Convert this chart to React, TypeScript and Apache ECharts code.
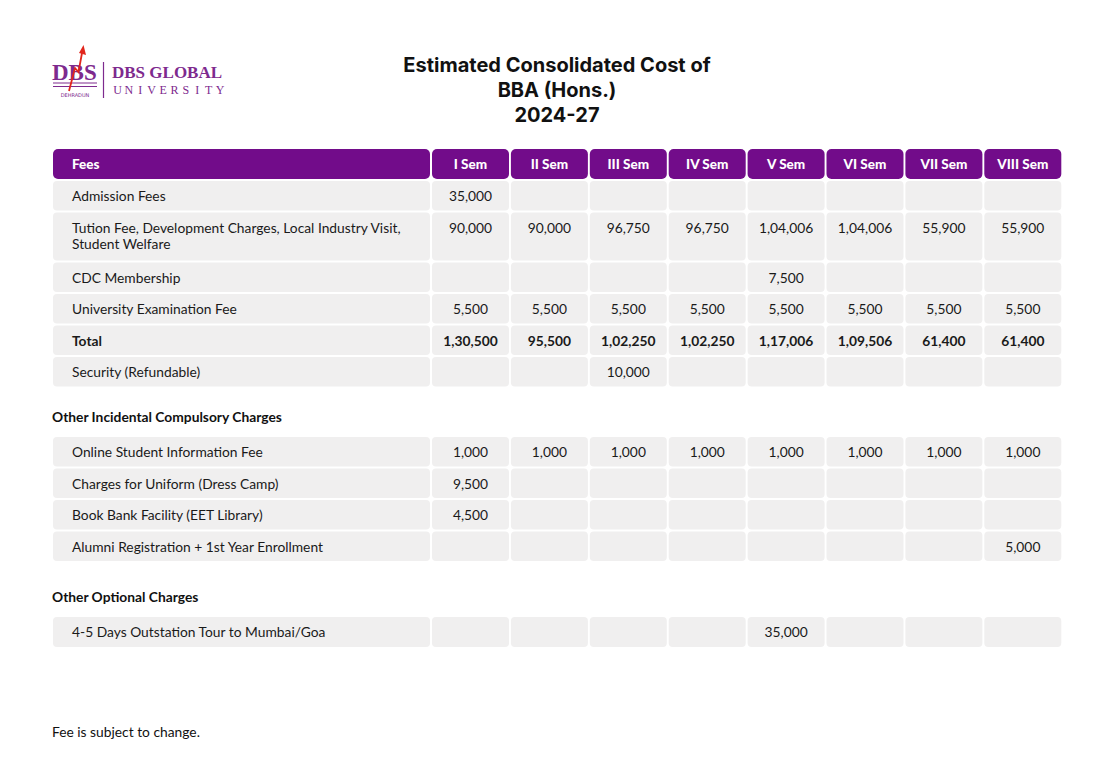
import React, { useEffect, useRef } from "react";
import * as echarts from "echarts";

const titleLines = ["Estimated Consolidated Cost of", "BBA (Hons.)", "2024-27"];
const firstHeader = "Fees";
const semesters = ["I Sem", "II Sem", "III Sem", "IV Sem", "V Sem", "VI Sem", "VII Sem", "VIII Sem"];

const mainLabels = [
  "Admission Fees",
  "Tution Fee, Development Charges, Local Industry Visit,\nStudent Welfare",
  "CDC Membership",
  "University Examination Fee",
  "Total",
  "Security (Refundable)",
];
const admission = [35000, null, null, null, null, null, null, null];
const tuition = [90000, 90000, 96750, 96750, 104006, 104006, 55900, 55900];
const cdc = [null, null, null, null, 7500, null, null, null];
const exam = [5500, 5500, 5500, 5500, 5500, 5500, 5500, 5500];
const total = [130500, 95500, 102250, 102250, 117006, 109506, 61400, 61400];
const security = [null, null, 10000, null, null, null, null, null];
const mainValues = [admission, tuition, cdc, exam, total, security];
const mainBold = [false, false, false, false, true, false];

const incidentalTitle = "Other Incidental Compulsory Charges";
const incidentalLabels = [
  "Online Student Information Fee",
  "Charges for Uniform (Dress Camp)",
  "Book Bank Facility (EET Library)",
  "Alumni Registration + 1st Year Enrollment",
];
const onlineFee = [1000, 1000, 1000, 1000, 1000, 1000, 1000, 1000];
const uniform = [9500, null, null, null, null, null, null, null];
const bookBank = [4500, null, null, null, null, null, null, null];
const alumni = [null, null, null, null, null, null, null, 5000];
const incidentalValues = [onlineFee, uniform, bookBank, alumni];

const optionalTitle = "Other Optional Charges";
const optionalLabels = ["4-5 Days Outstation Tour to Mumbai/Goa"];
const tour = [null, null, null, null, 35000, null, null, null];
const optionalValues = [tour];

const footnote = "Fee is subject to change.";

const logoMark = "DBS";
const logoCity = "DEHRADUN";
const logoName = "DBS GLOBAL";
const logoSub = "UNIVERSITY";

function fmtIndian(n: number | null): string {
  if (n === null || n === undefined) return "";
  const s = String(n);
  if (s.length <= 3) return s;
  const last3 = s.slice(-3);
  let rest = s.slice(0, -3);
  const parts: string[] = [];
  while (rest.length > 2) {
    parts.unshift(rest.slice(-2));
    rest = rest.slice(0, -2);
  }
  if (rest) parts.unshift(rest);
  return parts.join(",") + "," + last3;
}

const PURPLE = "#720c8a";
const CELL = "#f0efef";
const TEXT = "#1a1a1a";
const FONT = "Lato, 'Noto Sans', sans-serif";
const FS = "13.8px";

const X0 = 53;
const W0 = 377;
const SX = 432;
const PITCH = 78.9;
const SW = 77;
const ROW_H = 29.5;
const GAP = 2;

function buildGraphic() {
  const g: any[] = [];

  // Title
  titleLines.forEach((t, i) => {
    g.push({
      type: "text",
      x: 557,
      y: 65 + i * 25,
      style: {
        text: t,
        font: "bold 20px Inter, sans-serif",
        fill: "#111",
        align: "center",
        verticalAlign: "middle",
      },
    });
  });

  // Logo
  const LP = "#7e2a8e";
  const SERIF = "'Liberation Serif', 'DejaVu Serif', serif";
  g.push({ type: "text", x: 52, y: 72.5, style: { text: logoMark, font: `bold 23px ${SERIF}`, fill: LP, verticalAlign: "middle", align: "left" } });
  g.push({ type: "line", shape: { x1: 53, y1: 83, x2: 97, y2: 83 }, style: { stroke: LP, lineWidth: 1 } });
  g.push({ type: "line", shape: { x1: 53, y1: 86.5, x2: 97, y2: 86.5 }, style: { stroke: LP, lineWidth: 1 } });
  g.push({ type: "text", x: 75, y: 95, style: { text: logoCity, font: "5px 'DejaVu Sans', sans-serif", fill: LP, align: "center", verticalAlign: "middle" } });
  g.push({
    type: "polyline",
    shape: { points: [[69, 91], [75, 68], [78.5, 72], [82, 53]] },
    style: { stroke: "#e1261c", lineWidth: 1.8, fill: "none" },
  });
  g.push({ type: "polygon", shape: { points: [[83.5, 45], [86, 55], [79, 53]] }, style: { fill: "#e1261c" } });
  g.push({ type: "line", shape: { x1: 103.5, y1: 62, x2: 103.5, y2: 98 }, style: { stroke: LP, lineWidth: 1.2 } });
  g.push({ type: "text", x: 112, y: 72, style: { text: logoName, font: `bold 17px ${SERIF}`, fill: LP, verticalAlign: "middle", align: "left" } });
  logoSub.split("").forEach((ch, i) => {
    g.push({ type: "text", x: 117.5 + i * 11.4, y: 90, style: { text: ch, font: `12px ${SERIF}`, fill: LP, verticalAlign: "middle", align: "center" } });
  });

  // Header
  const headerY = 149;
  const headerH = 30;
  g.push({ type: "rect", shape: { x: X0, y: headerY, width: W0, height: headerH, r: 5 }, style: { fill: PURPLE } });
  g.push({ type: "text", x: 72, y: headerY + headerH / 2, style: { text: firstHeader, font: `900 13.5px ${FONT}`, fill: "#fff", verticalAlign: "middle" } });
  semesters.forEach((s, i) => {
    const x = SX + i * PITCH;
    g.push({ type: "rect", shape: { x, y: headerY, width: SW, height: headerH, r: 5 }, style: { fill: PURPLE } });
    g.push({ type: "text", x: x + SW / 2, y: headerY + headerH / 2, style: { text: s, font: `900 13.5px ${FONT}`, fill: "#fff", align: "center", verticalAlign: "middle" } });
  });

  const addRow = (y: number, h: number, label: string, vals: (number | null)[], bold: boolean) => {
    g.push({ type: "rect", shape: { x: X0, y, width: W0, height: h, r: 4 }, style: { fill: CELL } });
    g.push({
      type: "text",
      x: 72,
      y: y + 6.5,
      style: { text: label, font: `${bold ? "bold " : ""}${FS} ${FONT}`, fill: TEXT, verticalAlign: "top", lineHeight: 16 },
    });
    vals.forEach((v, i) => {
      const x = SX + i * PITCH;
      g.push({ type: "rect", shape: { x, y, width: SW, height: h, r: 4 }, style: { fill: CELL } });
      if (v !== null) {
        g.push({
          type: "text",
          x: x + SW / 2,
          y: y + 6.5,
          style: { text: fmtIndian(v), font: `${bold ? "bold " : ""}${FS} ${FONT}`, fill: TEXT, align: "center", verticalAlign: "top", lineHeight: 16 },
        });
      }
    });
  };

  let y = headerY + headerH + GAP;
  mainLabels.forEach((lab, r) => {
    const h = lab.includes("\n") ? 48 : ROW_H;
    addRow(y, h, lab, mainValues[r], mainBold[r]);
    y += h + GAP;
  });

  const section = (title: string, ty: number) => {
    g.push({ type: "text", x: 52, y: ty, style: { text: title, font: `bold ${FS} ${FONT}`, fill: "#111", verticalAlign: "middle" } });
  };

  section(incidentalTitle, 416);
  y = 437;
  incidentalLabels.forEach((lab, r) => {
    addRow(y, ROW_H, lab, incidentalValues[r], false);
    y += ROW_H + GAP;
  });

  section(optionalTitle, 596);
  y = 617;
  optionalLabels.forEach((lab, r) => {
    addRow(y, ROW_H + 0.5, lab, optionalValues[r], false);
    y += ROW_H + GAP;
  });

  g.push({ type: "text", x: 52, y: 731, style: { text: footnote, font: `${FS} ${FONT}`, fill: "#111", verticalAlign: "middle" } });

  return g;
}

export default function App() {
  const ref = useRef<HTMLDivElement>(null);
  useEffect(() => {
    const chart = echarts.init(ref.current!, null, { renderer: "svg" });
    chart.setOption({
      animation: false,
      backgroundColor: "#ffffff",
      graphic: buildGraphic(),
    });
    return () => chart.dispose();
  }, []);
  return (
    <div
      ref={ref}
      style={{ position: "fixed", left: 0, top: 0, width: 1113, height: 784, background: "#fff" }}
    />
  );
}
